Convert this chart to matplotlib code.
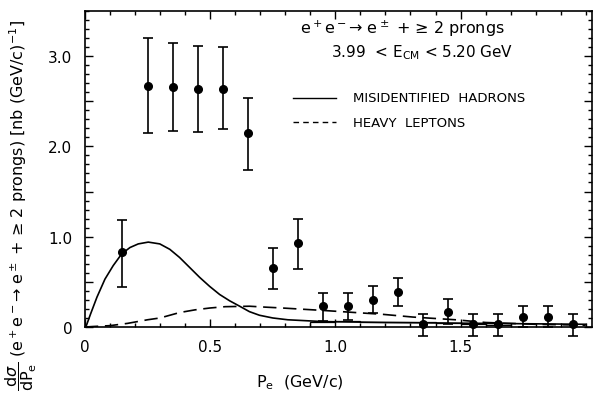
import numpy as np
import matplotlib
matplotlib.use("Agg")
import matplotlib.pyplot as plt
from matplotlib.ticker import MultipleLocator

# data points (P_e bin centres, cross section, error bar ends)
p_e = [0.15, 0.25, 0.35, 0.45, 0.55, 0.65, 0.75, 0.85, 0.95, 1.05,
       1.15, 1.25, 1.35, 1.45, 1.55, 1.65, 1.75, 1.85, 1.95]
sigma = [0.83, 2.67, 2.66, 2.64, 2.64, 2.15, 0.65, 0.93, 0.23, 0.23,
         0.30, 0.39, 0.03, 0.17, 0.03, 0.03, 0.11, 0.11, 0.03]
err_hi = [1.19, 3.20, 3.15, 3.11, 3.10, 2.54, 0.88, 1.20, 0.38, 0.38,
          0.45, 0.54, 0.14, 0.31, 0.14, 0.14, 0.23, 0.23, 0.14]
err_lo = [0.44, 2.15, 2.17, 2.16, 2.19, 1.74, 0.42, 0.64, 0.07, 0.08,
          0.16, 0.23, -0.10, 0.03, -0.10, -0.10, 0.00, 0.00, -0.10]

# misidentified hadrons (solid curve)
had_x = [0, 0.005, 0.022, 0.048, 0.08, 0.113, 0.147, 0.18, 0.213, 0.253,
         0.299, 0.339, 0.378, 0.418, 0.458, 0.498, 0.538, 0.578, 0.618,
         0.657, 0.697, 0.75, 0.81, 0.88, 0.95, 1.2, 1.6, 2.0]
had_y = [0, 0.01, 0.14, 0.33, 0.53, 0.68, 0.81, 0.88, 0.92, 0.94,
         0.92, 0.86, 0.77, 0.66, 0.55, 0.45, 0.36, 0.29, 0.23,
         0.17, 0.13, 0.10, 0.08, 0.07, 0.06, 0.05, 0.04, 0.03]

# heavy leptons (dashed curve)
lep_x = [0, 0.03, 0.10, 0.17, 0.25, 0.30, 0.378, 0.44, 0.498, 0.56, 0.657,
         0.72, 0.79, 0.88, 0.97, 1.08, 1.19, 1.31, 1.48, 1.6, 1.8, 2.0]
lep_y = [0, 0.005, 0.015, 0.04, 0.08, 0.10, 0.16, 0.19, 0.21, 0.225, 0.23,
         0.22, 0.21, 0.195, 0.18, 0.16, 0.14, 0.11, 0.08, 0.05, 0.03, 0.02]

# small background histogram near zero
bg_edges = [0.9, 1.0, 1.1, 1.2, 1.3, 1.4, 1.5, 1.6, 1.7]
bg_vals = [0.06, 0.07, 0.06, 0.05, 0.05, 0.04, 0.03, 0.02]

plt.rcParams['font.family'] = ['DejaVu Sans']
fig = plt.figure(figsize=(5.98, 4.10), dpi=100)
ax = fig.add_axes([0.142, 0.2, 0.848, 0.771])

yerr = [np.array(sigma) - np.array(err_lo), np.array(err_hi) - np.array(sigma)]
ax.errorbar(p_e, sigma, yerr=yerr, fmt='o', color='black', ms=5.5,
            capsize=3.5, elinewidth=1.2, capthick=1.2, clip_on=False, zorder=5)
ax.plot(had_x, had_y, '-', color='black', lw=1.2)
ax.plot(lep_x, lep_y, color='black', lw=1.2, dashes=(8, 4))
ax.stairs(bg_vals, bg_edges, color='black', lw=0.9)

ax.set_xlim(0, 2.025)
ax.set_ylim(0, 3.5)
ax.xaxis.set_minor_locator(MultipleLocator(0.1))
ax.yaxis.set_minor_locator(MultipleLocator(0.1))
ax.set_xticks([0, 0.5, 1.0, 1.5])
ax.set_xticklabels(['0', '0.5', '1.0', '1.5'])
ax.set_yticks([0, 0.5, 1.0, 1.5, 2.0, 2.5, 3.0])
ax.set_yticklabels(['0', '', '1.0', '', '2.0', '', '3.0'])
ax.tick_params(which='both', direction='in', top=True, right=True,
               labelsize=11, width=1)
ax.tick_params(which='major', length=6, pad=9)
ax.tick_params(which='minor', length=3)
for s in ax.spines.values():
    s.set_linewidth(1.2)

ax.text(0.425, 0.93, 'e$^+$e$^-$→ e$^\\pm$ + ≥ 2 prongs',
        transform=ax.transAxes, fontsize=11.5)
ax.text(0.485, 0.855, '3.99  < E$_{\\mathrm{CM}}$ < 5.20 GeV',
        transform=ax.transAxes, fontsize=11)
ax.plot([0.41, 0.495], [0.725, 0.725], '-', color='black', lw=1,
        transform=ax.transAxes)
ax.plot([0.41, 0.495], [0.647, 0.647], color='black', lw=1, dashes=(4, 3),
        transform=ax.transAxes)
ax.text(0.528, 0.725, 'MISIDENTIFIED  HADRONS', transform=ax.transAxes,
        fontsize=9.5, va='center')
ax.text(0.528, 0.647, 'HEAVY  LEPTONS', transform=ax.transAxes,
        fontsize=9.5, va='center')

fig.text(0.502, 0.066, 'P$_\\mathrm{e}$  (GeV/c)', ha='center', va='center',
         fontsize=11.5)
fig.text(0.035, 0.5,
         '$\\dfrac{\\mathrm{d}\\sigma}{\\mathrm{dP_e}}$ (e$^+$e$^-$→ e$^\\pm$ + ≥ 2 prongs) [nb (GeV/c)$^{-1}$]',
         rotation=90, ha='center', va='center', fontsize=11.5)

fig.savefig('out.png', dpi=100)
